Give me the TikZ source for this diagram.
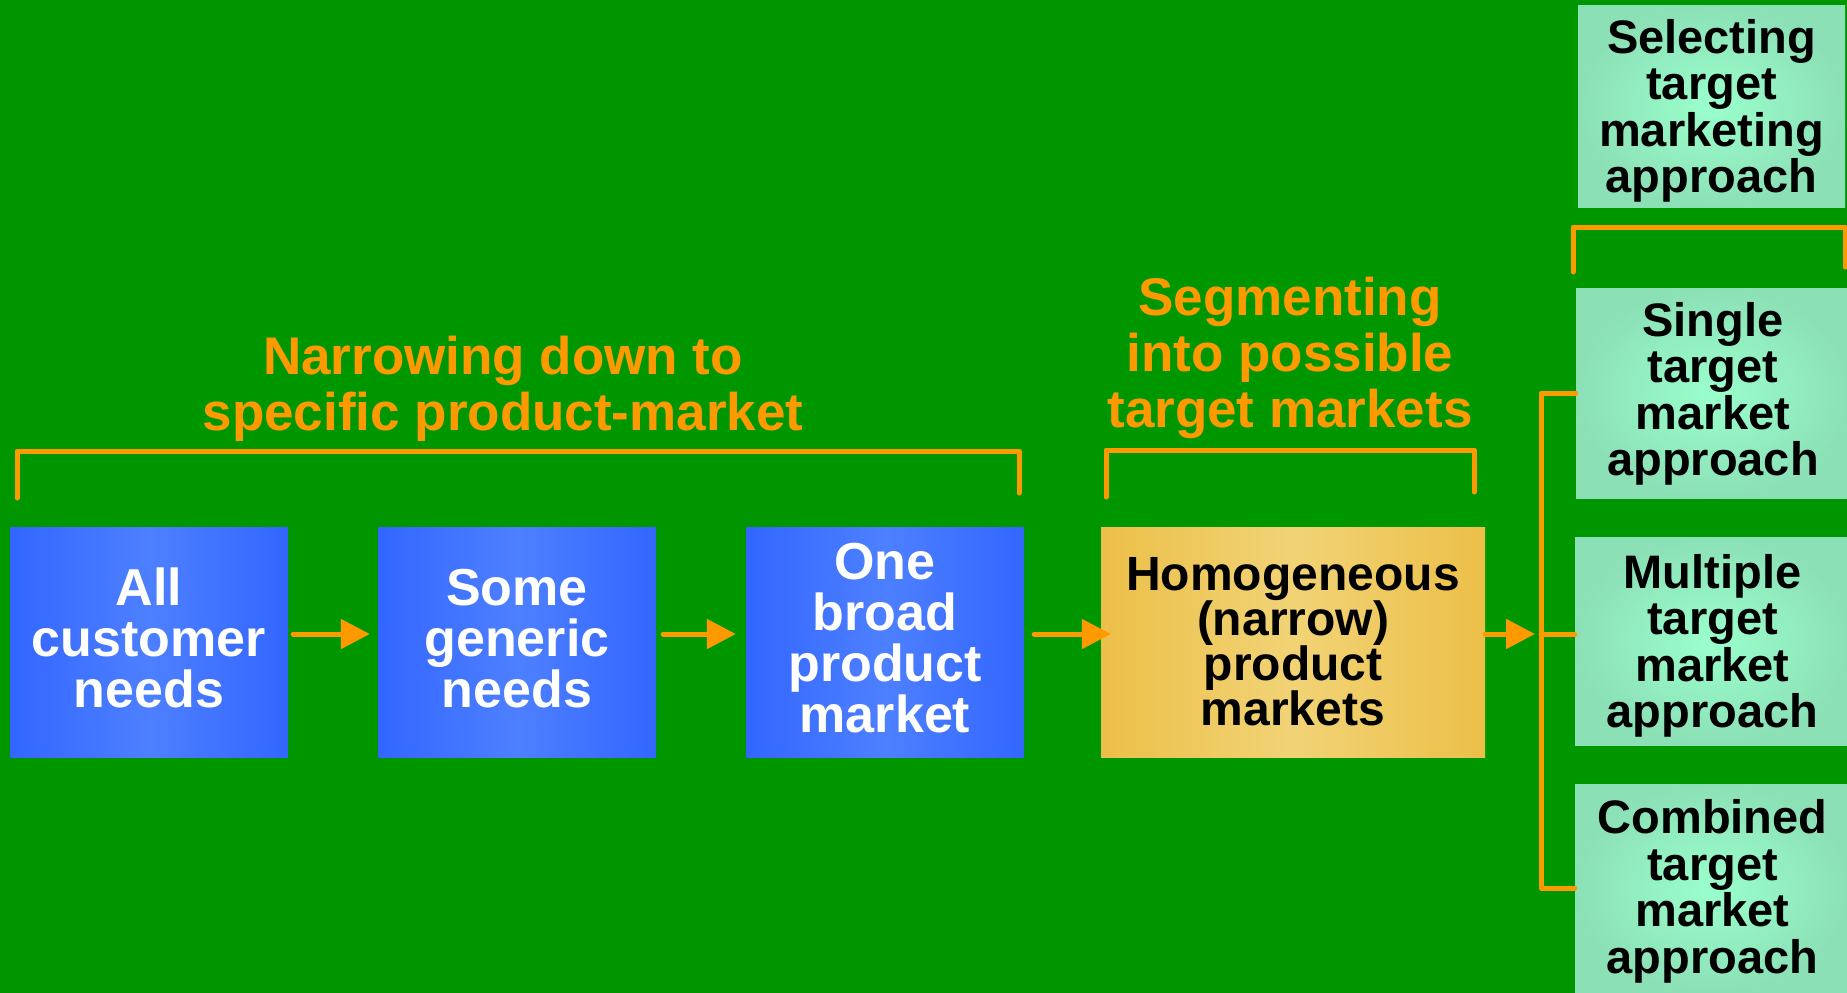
\documentclass[tikz,border=0pt]{standalone}
\usepackage{fontspec}
\setmainfont{Liberation Sans}
\usetikzlibrary{arrows.meta,calc}
\definecolor{bg}{RGB}{0,150,0}
\definecolor{orng}{RGB}{255,153,0}
\definecolor{blueedge}{RGB}{51,102,255}
\definecolor{bluemid}{RGB}{77,128,255}
\definecolor{yedge}{RGB}{236,191,72}
\definecolor{ymid}{RGB}{241,211,118}
\definecolor{gedge}{RGB}{140,224,182}
\definecolor{gmid}{RGB}{154,255,204}
\begin{document}
\begin{tikzpicture}[x=1pt,y=-1pt,
  conn/.style={draw=orng, line width=5pt, line cap=round, line join=round},
  arr/.style={conn, -{Triangle[length=29pt,width=29pt]}},
  bluebox/.style={rectangle, inner sep=0pt, minimum width=278pt, minimum height=230pt,
    left color=blueedge, right color=blueedge, middle color=bluemid, text depth=8pt,
    text=white, align=center, font=\bfseries\fontsize{52}{51}\selectfont},
  ybox/.style={rectangle, inner sep=0pt, minimum width=384pt, minimum height=230pt,
    left color=yedge, right color=yedge, middle color=ymid,
    text=black, align=center, font=\bfseries\fontsize{48}{45}\selectfont},
  gbox/.style={rectangle, inner sep=0pt, inner color=gmid, outer color=gedge,
    text=black, align=center, font=\bfseries\fontsize{47}{46.5}\selectfont},
  lbl/.style={inner sep=0pt, text=orng, align=center, font=\bfseries\fontsize{53}{56}\selectfont}]
\useasboundingbox (0,0) rectangle (1847,993);
\fill[bg] (0,0) rectangle (1847,993);

% main boxes
\node[bluebox] (b1) at (149,642) {All\\customer\\needs};
\node[bluebox] (b2) at (517,642) {Some\\generic\\needs};
\node[bluebox] (b3) at (885,642) {One\\broad\\product\\market};
\node[ybox] (y) at (1293,642) {Homogeneous\\(narrow)\\product\\markets};

% right column
\node[gbox, minimum width=267pt, minimum height=202pt, text depth=0pt] (sel) at (1711.5,106) {Selecting\\target\\marketing\\approach};
\node[gbox, minimum width=274pt, minimum height=210pt, text depth=8pt] (single) at (1713,393) {Single\\target\\market\\approach};
\node[gbox, minimum width=275pt, minimum height=208pt, text depth=0pt] (multi) at (1712.5,641) {Multiple\\target\\market\\approach};
\node[gbox, minimum width=275pt, minimum height=208pt, text depth=3pt] (comb) at (1712.5,888) {Combined\\target\\market\\approach};

% labels
\node[lbl] (nl) at (503,389) {Narrowing down to\\specific product-market};
\node[lbl] (sl) at (1290,358) {Segmenting\\into possible\\target markets};

% brackets
\draw[conn] (17,498) -- (17,451) -- (1019,451) -- (1019,493);
\draw[conn] (1106,497) -- (1106,450) -- (1474,450) -- (1474,492);
\draw[conn] (1573,272) -- (1573,227) -- (1845,227) -- (1845,267);

% arrows
\coordinate (r) at (0,634);
\draw[arr, shorten <=5pt, shorten >=8pt] (b1.east |- r) -- (b2.west |- r);
\draw[arr, shorten <=7pt, shorten >=10pt] (b2.east |- r) -- (b3.west |- r);
\draw[arr, shorten <=10pt, shorten >=-10pt] (b3.east |- r) -- (y.west |- r);
\coordinate (j) at (1541,634);
\draw[arr, shorten >=6pt] (y.east |- r) -- (j);
\draw[conn] (j) -- (multi.west |- j);
\draw[conn] (single.west) -- (single.west -| j) -- (comb.west -| j) -- (comb.west);
\end{tikzpicture}
\end{document}
